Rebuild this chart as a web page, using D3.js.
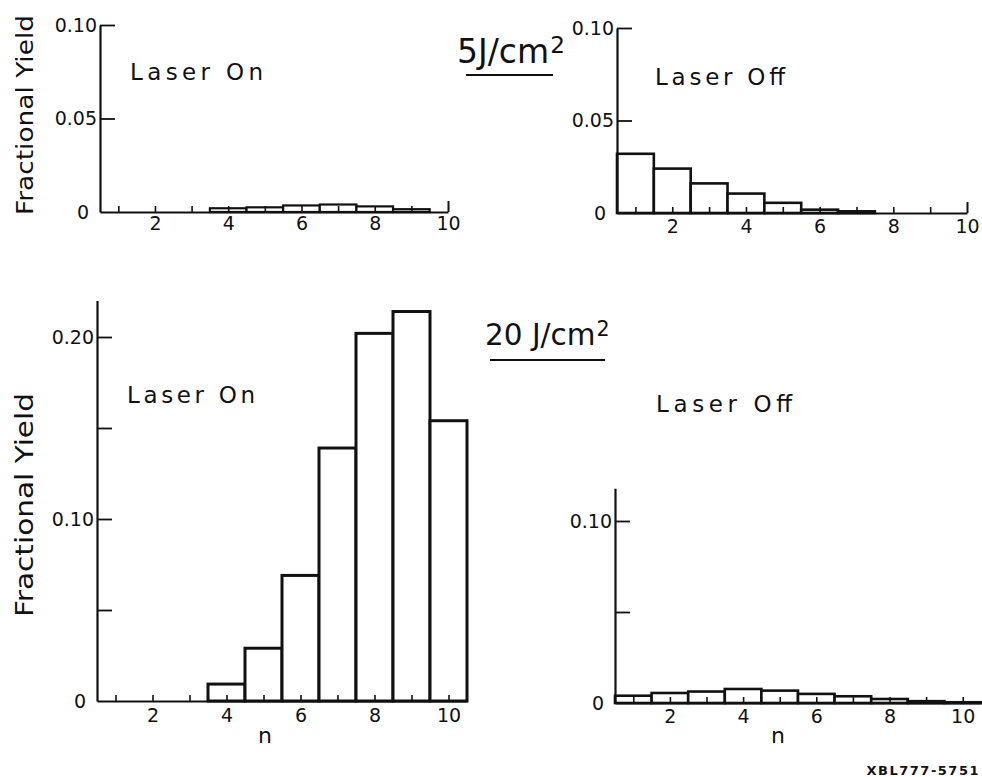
<!DOCTYPE html>
<html>
<head>
<meta charset="utf-8">
<script src="https://cdn.jsdelivr.net/npm/d3@7"></script>
<style>
  body { margin: 0; background: #fff; }
  svg { display: block; font-family: "DejaVu Sans", sans-serif; }
  .axis path, .axis line { stroke: #111; }
  .axis text { fill: #111; font-size: 19px; font-family: "DejaVu Sans", sans-serif; font-weight: 400; }
  .lbl { fill: #111; font-weight: 400; }
</style>
</head>
<body>
<svg id="chart" width="982" height="777"></svg>
<script>
"use strict";

// ---- data ----
const nTicks = [1, 2, 3, 4, 5, 6, 7, 8, 9, 10];
const nLabels = [2, 4, 6, 8, 10];

// 5 J/cm2
const onLowN = [4, 5, 6, 7, 8, 9];
const onLowYield = [0.002, 0.0025, 0.0035, 0.004, 0.003, 0.0015];
const offLowN = [1, 2, 3, 4, 5, 6, 7];
const offLowYield = [0.032, 0.024, 0.016, 0.0105, 0.0055, 0.0018, 0.0009];

// 20 J/cm2
const onHighN = [4, 5, 6, 7, 8, 9, 10];
const onHighYield = [0.0093, 0.029, 0.069, 0.139, 0.202, 0.214, 0.154];
const offHighN = [1, 2, 3, 4, 5, 6, 7, 8, 9, 10];
const offHighYield = [0.004, 0.0055, 0.0063, 0.0077, 0.0068, 0.005, 0.0037, 0.0022, 0.001, 0.0004];

const yTicksLow = [0, 0.05, 0.10];
const yLabelsLow = [0, 0.05, 0.10];
const yTicksOnHigh = [0, 0.05, 0.10, 0.15, 0.20];
const yLabelsOnHigh = [0, 0.10, 0.20];
const yTicksOffHigh = [0, 0.05, 0.10];
const yLabelsOffHigh = [0, 0.10];

const svg = d3.select("#chart");

function fmt(v) {
    if (v === 0) return "0";
    return d3.format(".2f")(v);
}

function panel(opt) {
    var x = d3.scaleLinear().domain(opt.xDomain).range(opt.xRange);
    var y = d3.scaleLinear().domain(opt.yDomain).range(opt.yRange);
    var g = svg.append("g");

    // bars (outlined histogram)
    g.selectAll("rect.bar")
        .data(opt.n.map(function (d, i) { return { n: d, v: opt.values[i] }; }))
        .enter().append("rect")
        .attr("class", "bar")
        .attr("x", function (d) { return x(d.n - 0.5); })
        .attr("width", function (d) { return x(d.n + 0.5) - x(d.n - 0.5); })
        .attr("y", function (d) { return y(d.v); })
        .attr("height", function (d) { return y(0) - y(d.v); })
        .attr("fill", "#fff")
        .attr("stroke", "#111")
        .attr("stroke-width", opt.barStroke);

    // x axis, ticks pointing up into the plot
    var xa = g.append("g")
        .attr("class", "axis")
        .attr("transform", "translate(0," + y(0) + ")")
        .call(d3.axisBottom(x)
            .tickValues(nTicks)
            .tickSizeInner(-6)
            .tickSizeOuter(0)
            .tickPadding(opt.xPad)
            .tickFormat(function (d) { return nLabels.indexOf(d) >= 0 ? d : ""; }));
    xa.select(".domain").attr("stroke-width", 2.2);
    xa.selectAll(".tick line").attr("stroke-width", 1.6);
    if (opt.endTick) {
        xa.selectAll(".tick").filter(function (d) { return d === 10; })
            .select("line").attr("y2", -11).attr("stroke-width", 2);
    }

    // y axis, ticks pointing right
    var ya = g.append("g")
        .attr("class", "axis")
        .attr("transform", "translate(" + x(0.5) + ",0)")
        .call(d3.axisLeft(y)
            .tickValues(opt.yTicks)
            .tickSizeInner(-15)
            .tickSizeOuter(0)
            .tickPadding(3)
            .tickFormat(function (d) { return opt.yLabels.indexOf(d) >= 0 ? fmt(d) : ""; }));
    ya.select(".domain").attr("stroke-width", 2.2);
    ya.selectAll(".tick line").attr("stroke-width", 1.8);
    ya.selectAll(".tick").filter(function (d) { return d === 0; }).select("line").remove();
    ya.selectAll(".tick").filter(function (d) { return d === 0; }).select("text").attr("x", -11);

    // panel caption
    svg.append("text").attr("class", "lbl")
        .attr("x", opt.cap[0]).attr("y", opt.cap[1])
        .attr("font-size", 23)
        .attr("textLength", opt.cap[2]).attr("lengthAdjust", "spacing")
        .text(opt.caption);
    return { x: x, y: y };
}

panel({
    n: onLowN, values: onLowYield,
    xDomain: [0.5, 10], xRange: [100, 448],
    yDomain: [0, 0.10], yRange: [212, 25],
    yTicks: yTicksLow, yLabels: yLabelsLow,
    barStroke: 2.2, xPad: 4, endTick: true,
    caption: "Laser On", cap: [130, 80, 133]
});
panel({
    n: offLowN, values: offLowYield,
    xDomain: [0.5, 10], xRange: [617, 967],
    yDomain: [0, 0.10], yRange: [213, 28],
    yTicks: yTicksLow, yLabels: yLabelsLow,
    barStroke: 2.6, xPad: 7, endTick: true,
    caption: "Laser Off", cap: [655, 85, 130]
});
panel({
    n: onHighN, values: onHighYield,
    xDomain: [0.5, 10.5], xRange: [97, 467],
    yDomain: [0, 0.22], yRange: [701, 701 - 0.22 * 1820],
    yTicks: yTicksOnHigh, yLabels: yLabelsOnHigh,
    barStroke: 3, xPad: 8, endTick: false,
    caption: "Laser On", cap: [127, 403, 128]
});
panel({
    n: offHighN, values: offHighYield,
    xDomain: [0.5, 10.5], xRange: [615, 981],
    yDomain: [0, 0.118], yRange: [703, 703 - 0.118 * 1820],
    yTicks: yTicksOffHigh, yLabels: yLabelsOffHigh,
    barStroke: 2.6, xPad: 7, endTick: false,
    caption: "Laser Off", cap: [656, 412, 136]
});

// y axis titles
svg.append("text").attr("class", "lbl")
    .attr("transform", "translate(33,215) rotate(-90)")
    .attr("font-size", 23)
    .attr("textLength", 200).attr("lengthAdjust", "spacingAndGlyphs")
    .text("Fractional Yield");
svg.append("text").attr("class", "lbl")
    .attr("transform", "translate(33,617) rotate(-90)")
    .attr("font-size", 25)
    .attr("textLength", 224).attr("lengthAdjust", "spacingAndGlyphs")
    .text("Fractional Yield");

// x axis titles
svg.append("text").attr("class", "lbl").attr("x", 265).attr("y", 743)
    .attr("text-anchor", "middle").attr("font-size", 22).text("n");
svg.append("text").attr("class", "lbl").attr("x", 778).attr("y", 743)
    .attr("text-anchor", "middle").attr("font-size", 22).text("n");

// fluence headings with underline
function fluence(x0, base, size, main, uy, ux0, ux1) {
    var t = svg.append("text").attr("class", "lbl")
        .attr("x", x0).attr("y", base).attr("font-size", size);
    t.append("tspan").text(main);
    t.append("tspan").attr("dx", 1).attr("dy", -size * 0.3).attr("font-size", size * 0.7).text("2");
    svg.append("line")
        .attr("x1", ux0).attr("x2", ux1).attr("y1", uy).attr("y2", uy)
        .attr("stroke", "#111").attr("stroke-width", 2);
}
fluence(457, 63, 33, "5J/cm", 75, 466, 553);
fluence(485, 345, 29.5, "20 J/cm", 360, 490, 605);

// figure id
svg.append("text")
    .attr("x", 980).attr("y", 775)
    .attr("text-anchor", "end")
    .attr("font-size", 13).attr("font-weight", "bold")
    .attr("letter-spacing", 1.5)
    .attr("fill", "#111")
    .text("XBL777-5751");
</script>
</body>
</html>
